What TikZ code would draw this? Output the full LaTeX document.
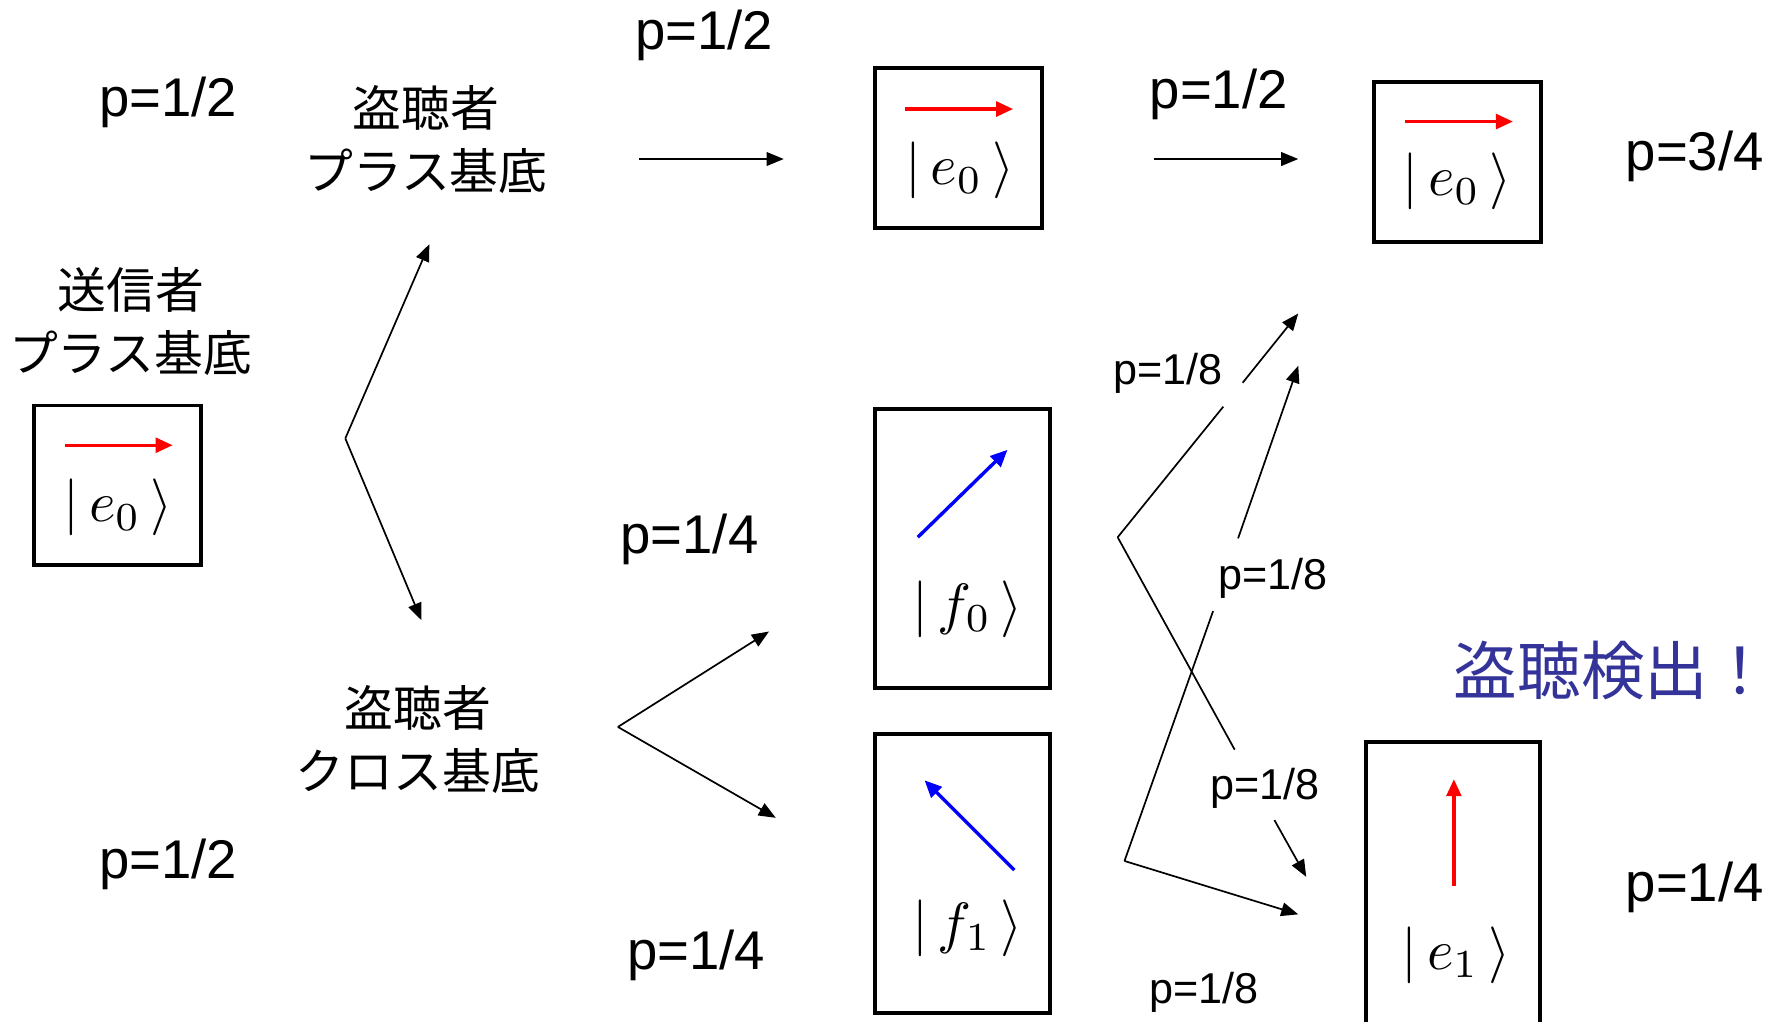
\documentclass[tikz,border=0pt]{standalone}
\usepackage[no-math]{fontspec}
\setmainfont{Liberation Sans}
\newfontfamily\jp{Noto Sans CJK JP}
\usetikzlibrary{arrows.meta}
\definecolor{detect}{RGB}{51,51,153}
\newcommand{\ketsym}[1]{\scalebox{5}{$|\,#1\,\rangle$}}
\begin{document}
\begin{tikzpicture}[x=1pt,y=-1pt,
  prob/.style={font=\fontsize{48}{58}\selectfont, inner sep=0pt},
  probs/.style={font=\fontsize{38}{46}\selectfont, inner sep=0pt},
  jlabel/.style={font=\jp\fontsize{43}{55.5}\selectfont, align=center, inner sep=0pt},
  statebox/.style={draw, line width=3.5pt, inner sep=0pt},
  ket/.style={inner sep=0pt},
  conn/.style={line width=1.5pt, -{Triangle[length=15pt,width=12pt]}},
  plainline/.style={line width=1.5pt},
  redvec/.style={red, line width=3pt, -{Triangle[length=15pt,width=13pt]}},
  bluevec/.style={blue, line width=3pt, -{Triangle[length=15pt,width=13pt]}},
]
\useasboundingbox (0,0) rectangle (1568,899);
\fill[white] (0,0) rectangle (1568,899);

% probability labels
\node[prob] (pA) at (148,90) {p=1/2};
\node[prob] (pB) at (620,31) {p=1/2};
\node[prob] (pC) at (1073,83) {p=1/2};
\node[prob] (pD) at (1492,138) {p=3/4};
\node[prob] (pE) at (148,761) {p=1/2};
\node[prob] (pF) at (607,475) {p=1/4};
\node[prob] (pG) at (613,841) {p=1/4};
\node[prob] (pH) at (1492,781) {p=1/4};
\node[probs] (q1) at (1028,329) {p=1/8};
\node[probs] (q2) at (1121,509) {p=1/8};
\node[probs] (q3) at (1114,694) {p=1/8};
\node[probs] (q4) at (1060,874) {p=1/8};

% Japanese labels
\node[jlabel] (sender) at (115,283) {送信者\\プラス基底};
\node[jlabel] (eveplus) at (375,123) {盗聴者\\プラス基底};
\node[jlabel] (evecross) at (368,651) {盗聴者\\クロス基底};
\node[font=\jp\fontsize{56}{62}\selectfont, text=detect, inner sep=0pt] (detect) at (1420,590) {盗聴検出！};

% boxes
\node[statebox, minimum width=147pt, minimum height=140pt] (bs) at (103.5,427) {};
\node[statebox, minimum width=147pt, minimum height=141pt] (b1) at (843.5,130.5) {};
\node[statebox, minimum width=147pt, minimum height=141pt] (b2) at (1283.5,142.5) {};
\node[statebox, minimum width=154pt, minimum height=246pt] (bf0) at (847,483) {};
\node[statebox, minimum width=154pt, minimum height=246pt] (bf1) at (847,769) {};
\node[statebox, minimum width=153pt, minimum height=250pt] (be1) at (1279.5,778) {};

% kets
\node[ket] (ks) at (104,447) {\ketsym{e_0}};
\node[ket] (k1) at (845,150) {\ketsym{e_0}};
\node[ket] (k2) at (1283,160) {\ketsym{e_0}};
\node[ket] (kf0) at (852,536) {\ketsym{f_0}};
\node[ket] (kf1) at (852,817) {\ketsym{f_1}};
\node[ket] (ke1) at (1282,841) {\ketsym{e_1}};

% polarisation vectors
\draw[redvec] (57,392) -- (152,392);
\draw[redvec] (797,96) -- (892,96);
\draw[redvec] (1237,107) -- (1332,107);
\draw[bluevec] (808,473) -- (887,396);
\draw[bluevec] (893,766) -- (814,687);
\draw[redvec] (1280,780) -- (1280,686);

% connectors
\coordinate (c1) at (304,386);
\coordinate (c1u) at (378,215);
\coordinate (c1d) at (371,546);
\draw[conn] (c1) -- (c1u);
\draw[conn] (c1) -- (c1d);

\coordinate (c2) at (544,640);
\coordinate (c2u) at (677,556);
\coordinate (c2d) at (683,720);
\draw[conn] (c2) -- (c2u);
\draw[conn] (c2) -- (c2d);

\coordinate (h1s) at (563,140);
\coordinate (h1e) at (690,140);
\draw[conn] (h1s) -- (h1e);
\coordinate (h2s) at (1016,140);
\coordinate (h2e) at (1143,140);
\draw[conn] (h2s) -- (h2e);

\coordinate (v1) at (984,473);
\coordinate (v1a) at (1077,358);
\coordinate (v1b) at (1094,337);
\coordinate (v1c) at (1143,276);
\draw[plainline] (v1) -- (v1a);
\draw[conn] (v1b) -- (v1c);
\coordinate (v1d) at (1087,660);
\coordinate (v1e) at (1122,722);
\coordinate (v1f) at (1150,772);
\draw[plainline] (v1) -- (v1d);
\draw[conn] (v1e) -- (v1f);

\coordinate (v2) at (990,758);
\coordinate (v2a) at (1068,538);
\coordinate (v2b) at (1090,474);
\coordinate (v2c) at (1143,322);
\draw[plainline] (v2) -- (v2a);
\draw[conn] (v2b) -- (v2c);
\coordinate (v2d) at (1143,805);
\draw[conn] (v2) -- (v2d);
\end{tikzpicture}
\end{document}
